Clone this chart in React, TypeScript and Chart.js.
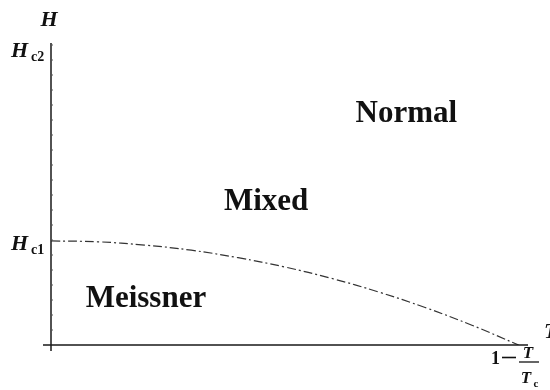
import React, { useEffect, useRef } from "react";
import { Chart, registerables } from "chart.js";

Chart.register(...registerables);

// reduced temperature 1 - T/Tc and lower critical field H (in units of Hc2)
const reducedTemp = [0, 0.1, 0.2, 0.3, 0.4, 0.5, 0.6, 0.7, 0.8, 0.9, 1.0];
const hc1Curve = [0.347, 0.344, 0.333, 0.316, 0.291, 0.26, 0.222, 0.177, 0.125, 0.066, 0];
const HC1 = 0.347;
const HC2 = 1;
const regionLabels = ["Normal", "Mixed", "Meissner"];
// label anchor (x, baseline) in data units
const regionPos = [
  [0.76, 0.743],
  [0.46, 0.45],
  [0.203, 0.127],
];

const SERIF = "'Liberation Serif', 'DejaVu Serif', serif";

const phasePlugin = {
  id: "phaseDiagram",
  afterDraw(chart: any) {
    const { ctx, scales } = chart;
    const xs = scales.x;
    const ys = scales.y;
    const x0 = xs.getPixelForValue(0);
    const y0 = ys.getPixelForValue(0);
    const yTop = ys.getPixelForValue(HC2);
    const xEnd = xs.getPixelForValue(1.02);
    ctx.save();
    ctx.strokeStyle = "#1a1a1a";
    ctx.lineWidth = 1.5;
    // axes
    ctx.beginPath();
    ctx.moveTo(x0, yTop - 2);
    ctx.lineTo(x0, y0 + 6);
    ctx.moveTo(x0 - 8, y0);
    ctx.lineTo(xEnd, y0);
    ctx.stroke();
    // minor ticks on the field axis
    ctx.lineWidth = 1;
    ctx.strokeStyle = "#555";
    for (let v = 0.05; v <= 1.0001; v += 0.05) {
      const py = ys.getPixelForValue(v);
      ctx.beginPath();
      ctx.moveTo(x0, py);
      ctx.lineTo(x0 + 2, py);
      ctx.stroke();
    }
    ctx.fillStyle = "#111";
    ctx.textBaseline = "alphabetic";
    // axis titles
    ctx.font = `italic bold 22px ${SERIF}`;
    ctx.textAlign = "center";
    ctx.fillText("H", x0 - 2, 26);
    ctx.textAlign = "left";
    ctx.fillText("T", xEnd + 16, 338);
    // field tick labels
    const fieldLabel = (sub: string, v: number, dy: number) => {
      const py = ys.getPixelForValue(v) + dy;
      ctx.font = `italic bold 22px ${SERIF}`;
      ctx.textAlign = "left";
      ctx.fillText("H", 11, py);
      ctx.font = `bold 14px ${SERIF}`;
      ctx.fillText(sub, 31, py + 4);
    };
    fieldLabel("c2", HC2, 12);
    fieldLabel("c1", HC1, 9);
    // 1 - T/Tc label
    ctx.font = `bold 18px ${SERIF}`;
    ctx.fillText("1", 491, 364);
    ctx.lineWidth = 1.6;
    ctx.strokeStyle = "#111";
    ctx.beginPath();
    ctx.moveTo(502, 357.5);
    ctx.lineTo(516, 357.5);
    ctx.stroke();
    ctx.font = `italic bold 17px ${SERIF}`;
    ctx.textAlign = "center";
    ctx.fillText("T", 528, 358);
    ctx.fillText("T", 526, 383);
    ctx.font = `bold 11px ${SERIF}`;
    ctx.fillText("c", 536, 387);
    ctx.lineWidth = 1.3;
    ctx.beginPath();
    ctx.moveTo(519, 362);
    ctx.lineTo(539, 362);
    ctx.stroke();
    // region names
    ctx.font = `bold 31px ${SERIF}`;
    ctx.textAlign = "center";
    regionLabels.forEach((t, i) => {
      const [u, h] = regionPos[i];
      ctx.fillText(t, xs.getPixelForValue(u), ys.getPixelForValue(h));
    });
    ctx.restore();
  },
};

export default function App() {
  const ref = useRef<HTMLCanvasElement>(null);
  useEffect(() => {
    if (!ref.current) return;
    const chart = new Chart(ref.current, {
      type: "line",
      data: {
        datasets: [
          {
            data: reducedTemp.map((u, i) => ({ x: u, y: hc1Curve[i] })),
            borderColor: "#333",
            borderWidth: 1.2,
            borderDash: [9, 3, 2, 3],
            pointRadius: 0,
            tension: 0.4,
            fill: false,
          },
        ],
      },
      options: {
        animation: false,
        responsive: false,
        maintainAspectRatio: false,
        events: [],
        layout: { padding: { left: 51, right: 22, top: 45, bottom: 45 } },
        plugins: { legend: { display: false }, tooltip: { enabled: false } },
        scales: {
          x: { type: "linear", min: 0, max: 1.02, display: false },
          y: { type: "linear", min: 0, max: 1, display: false },
        },
      },
      plugins: [phasePlugin],
    });
    return () => chart.destroy();
  }, []);
  return (
    <div style={{ position: "absolute", left: 0, top: 0, width: 550, height: 390, background: "#fff" }}>
      <canvas ref={ref} width={550} height={390} />
    </div>
  );
}
